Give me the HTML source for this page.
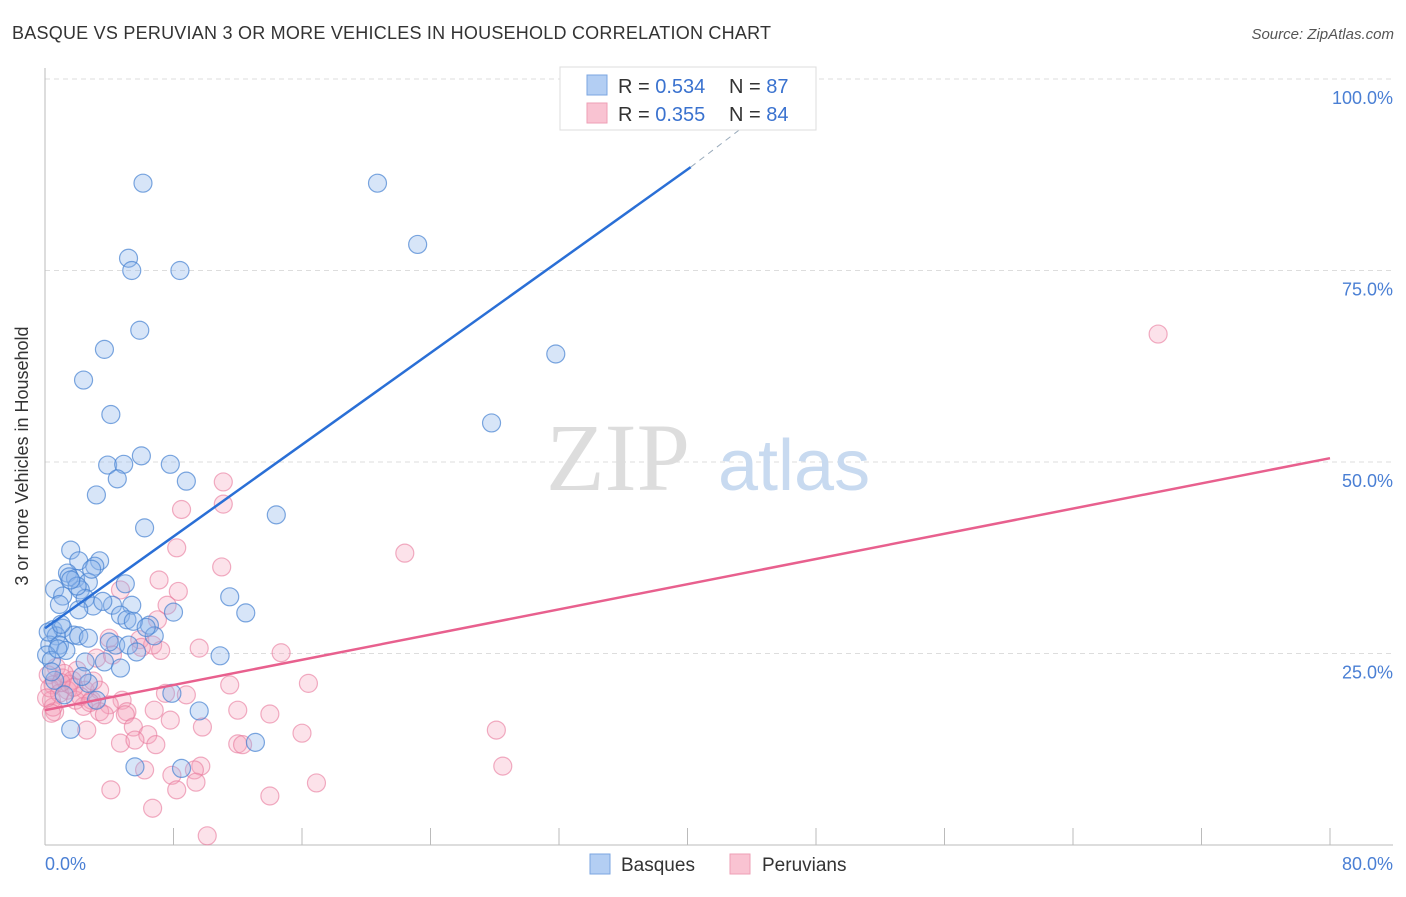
<!DOCTYPE html>
<html><head><meta charset="utf-8">
<style>
body{margin:0;background:#fff;font-family:"Liberation Sans",sans-serif;}
</style></head>
<body>
<svg width="1406" height="892" xmlns="http://www.w3.org/2000/svg">
<text x="12" y="39" font-size="18" fill="#333" textLength="759">BASQUE VS PERUVIAN 3 OR MORE VEHICLES IN HOUSEHOLD CORRELATION CHART</text>
<text x="1394" y="39" font-size="15" fill="#555" font-style="italic" text-anchor="end">Source: ZipAtlas.com</text>
<g id="grid"></g>
<text x="690" y="490" font-size="96" font-family="Liberation Serif,serif" fill="#ddd" text-anchor="end">ZIP</text>
<text x="718" y="490" font-size="72" fill="#c8daf0">atlas</text>
<g id="axes"></g>
<g id="pts"></g>
<g id="lines"></g>
<text x="28" y="456" font-size="18" fill="#333" transform="rotate(-90 28 456)" text-anchor="middle">3 or more Vehicles in Household</text>
<text x="45" y="870" font-size="18" fill="#4a7fd4">0.0%</text>
<text x="1393" y="870" font-size="18" fill="#4a7fd4" text-anchor="end">80.0%</text>
<g>
<rect x="560" y="67" width="256" height="63" fill="#fff" stroke="#ddd"/>
<rect x="587" y="75" width="20" height="20" fill="#b3cef3" stroke="#7ba6e0"/>
<rect x="587" y="103" width="20" height="20" fill="#f9c3d2" stroke="#ee9fb6"/>
<text x="618" y="93" font-size="20" fill="#333">R = <tspan fill="#3a72cf">0.534</tspan></text>
<text x="729" y="93" font-size="20" fill="#333">N = <tspan fill="#3a72cf">87</tspan></text>
<text x="618" y="121" font-size="20" fill="#333">R = <tspan fill="#3a72cf">0.355</tspan></text>
<text x="729" y="121" font-size="20" fill="#333">N = <tspan fill="#3a72cf">84</tspan></text>
</g>
<g>
<rect x="590" y="854" width="20" height="20" fill="#b3cef3" stroke="#7ba6e0"/>
<text x="621" y="871" font-size="19" fill="#333">Basques</text>
<rect x="730" y="854" width="20" height="20" fill="#f9c3d2" stroke="#ee9fb6"/>
<text x="762" y="871" font-size="19" fill="#333">Peruvians</text>
</g>
</svg>
<script>
const yTicks=[25,50,75,100];
const yTickLabels=["25.0%","50.0%","75.0%","100.0%"];
const xTicks=[8,16,24,32,40,48,56,64,72,80];
const blueX=[6.1,20.7,5.2,5.4,8.4,23.2,5.9,3.7,31.8,2.4,4.1,27.8,6.0,3.9,4.9,7.8,4.5,8.8,3.2,14.4,6.2,1.6,3.4,2.1,1.4,1.9,3.1,2.7,5.0,0.6,2.2,1.1,2.5,11.5,0.9,3.0,4.2,5.4,2.1,8.0,12.5,4.7,5.1,6.5,0.5,1.1,0.7,1.8,2.1,2.7,6.8,0.3,0.9,1.3,4.4,5.2,5.7,0.1,0.4,10.9,3.7,2.5,4.7,2.7,0.6,3.2,7.9,1.6,9.6,13.1,5.6,8.5,33.2,1.5,2.0,0.2,1.0,3.6,5.5,0.8,1.6,2.9,4.0,0.4,1.2,2.3,6.3];
const blueY=[86.4,86.4,76.6,75.0,75.0,78.4,67.2,64.7,64.1,60.7,56.2,55.1,50.8,49.6,49.7,49.7,47.8,47.5,45.7,43.1,41.4,38.5,37.1,37.1,35.5,34.8,36.4,34.3,34.1,33.4,33.3,32.5,32.2,32.4,31.4,31.2,31.3,31.3,30.7,30.4,30.3,30.0,29.4,28.7,28.1,28.3,27.3,27.4,27.3,27.0,27.3,26.1,26.1,25.4,26.1,26.1,25.2,24.8,24.1,24.7,23.9,23.9,23.1,21.1,21.5,18.9,19.8,15.1,17.5,13.4,10.2,10.0,99.8,35.0,33.8,27.8,28.8,31.8,29.2,25.6,34.6,36.0,26.5,22.6,19.6,22.0,28.4];
const pinkX=[69.3,22.4,11.1,11.1,8.5,8.2,7.1,11.0,8.3,7.6,4.7,7.0,4.0,5.9,6.7,7.2,9.6,14.7,3.2,4.2,2.0,0.7,0.2,1.1,1.7,0.5,1.4,2.5,3.4,16.4,11.5,7.5,8.8,0.4,1.9,2.9,4.8,2.4,4.0,0.6,3.4,5.1,6.8,12.0,3.7,5.0,14.0,7.8,5.5,9.8,2.6,16.0,28.1,6.4,4.7,5.6,6.9,12.0,12.3,9.7,9.3,6.2,7.9,28.5,9.4,4.1,8.2,14.0,16.9,6.7,10.1,0.3,0.9,1.5,2.2,0.5,1.2,3.0,0.1,1.8,2.8,0.4,1.0,6.0];
const pinkY=[66.7,38.1,47.4,44.5,43.8,38.8,34.6,36.3,33.1,31.3,33.3,29.4,27.0,26.8,26.1,25.4,25.7,25.1,24.4,24.8,22.8,23.2,22.2,21.8,21.5,20.9,20.2,20.2,20.2,21.1,20.9,19.8,19.6,18.9,18.9,18.9,18.9,18.1,18.3,17.4,17.4,17.4,17.6,17.6,17.0,17.0,17.1,16.3,15.4,15.4,15.0,14.6,15.0,14.4,13.3,13.7,13.1,13.2,13.1,10.3,9.8,9.8,9.1,10.3,8.2,7.2,7.2,6.4,8.1,4.8,1.2,20.5,19.8,21.0,19.4,18.0,22.4,21.4,19.2,20.6,18.6,17.2,21.2,25.8];
const blueLine=[[0,28.3],[40.2,88.5],[45.5,97]];
const pinkLine=[[0,17.6],[80,50.5]];
const NS="http://www.w3.org/2000/svg";
const X=v=>45+v/80*1285, Y=v=>845-v/100*766;
function mk(t,a,p){const e=document.createElementNS(NS,t);for(const k in a)e.setAttribute(k,a[k]);p.appendChild(e);return e;}
const grid=document.getElementById('grid'), axes=document.getElementById('axes'), pts=document.getElementById('pts'), lines=document.getElementById('lines');
yTicks.forEach((v,i)=>{
  const l=mk('line',{x1:45,x2:1393,y1:Y(v),y2:Y(v),stroke:'#ddd','stroke-dasharray':'5,4'},grid);
  
  
  const t=mk('text',{x:1393,y:Y(v)+25,'font-size':18,fill:'#4a7fd4','text-anchor':'end'},axes);
  t.textContent=yTickLabels[i];
  
  
});
const ya=mk('line',{x1:45,x2:45,y1:68,y2:845,stroke:'#bbb'},axes);


const xa=mk('line',{x1:45,x2:1393,y1:845,y2:845,stroke:'#bbb'},axes);


xTicks.forEach(v=>{
  const t=mk('line',{x1:X(v),x2:X(v),y1:828,y2:845,stroke:'#bbb'},axes);
  
  
});
pinkX.forEach((v,i)=>{
  const c=mk('circle',{cx:X(v),cy:Y(pinkY[i]),r:9,fill:'rgba(244,160,185,0.3)',stroke:'rgba(232,120,155,0.6)','stroke-width':1.2},pts);
  
  
});
blueX.forEach((v,i)=>{
  const c=mk('circle',{cx:X(v),cy:Y(blueY[i]),r:9,fill:'rgba(140,180,235,0.35)',stroke:'rgba(70,130,210,0.7)','stroke-width':1.2},pts);
  
  
});
const bl=mk('line',{x1:X(blueLine[0][0]),y1:Y(blueLine[0][1]),x2:X(blueLine[1][0]),y2:Y(blueLine[1][1]),stroke:'#2a6fd6','stroke-width':2.5},lines);


const bd=mk('line',{x1:X(blueLine[1][0]),y1:Y(blueLine[1][1]),x2:X(blueLine[2][0]),y2:Y(blueLine[2][1]),stroke:'#9ab','stroke-width':1,'stroke-dasharray':'6,5'},lines);


const pl=mk('line',{x1:X(pinkLine[0][0]),y1:Y(pinkLine[0][1]),x2:X(pinkLine[1][0]),y2:Y(pinkLine[1][1]),stroke:'#e8608e','stroke-width':2.5},lines);


</script>
</body></html>
